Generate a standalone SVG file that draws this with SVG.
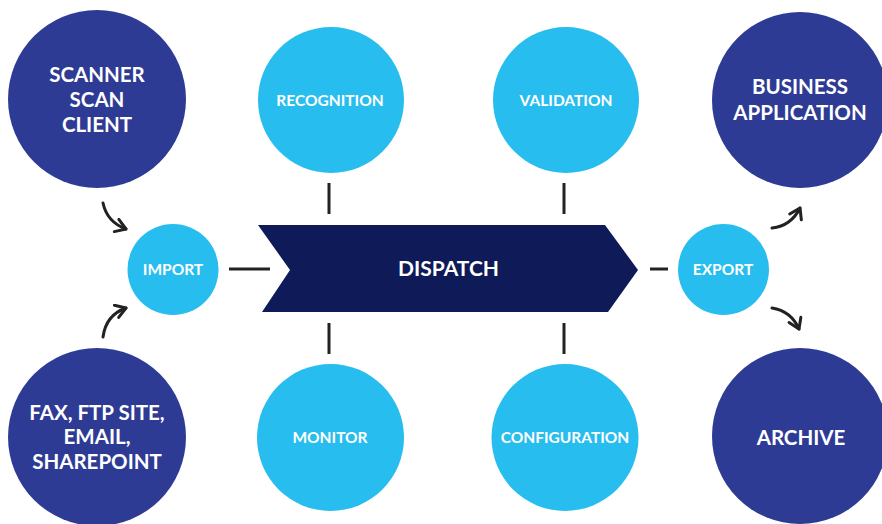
<svg xmlns="http://www.w3.org/2000/svg" width="882" height="524" viewBox="0 0 882 524">
<style>
.dark{fill:#2e3b95}
.light{fill:#28bdef}
.t{font-family:Lato,"Open Sans","Liberation Sans",sans-serif;font-weight:bold;fill:#ffffff;text-anchor:middle}
.big{font-size:20.5px}
.sm{font-size:15.5px}
.ln{stroke:#222;stroke-width:3;fill:none}
.ar{stroke:#222;stroke-width:3;fill:none;stroke-linecap:round;stroke-linejoin:round}
</style>
<defs>
<marker id="head" viewBox="0 0 16 16" refX="13" refY="8" markerWidth="16" markerHeight="16" markerUnits="userSpaceOnUse" orient="auto">
<path d="M3,1.5 L13,8 L3,14.5" fill="none" stroke="#222" stroke-width="3" stroke-linecap="round" stroke-linejoin="round"/>
</marker>
</defs>
<rect width="882" height="524" fill="#ffffff"/>
<g id="connectors">
<line class="ln" x1="229" y1="269" x2="270" y2="269"/>
<line class="ln" x1="650" y1="269" x2="668" y2="269"/>
<line class="ln" x1="329" y1="183" x2="329" y2="214"/>
<line class="ln" x1="564" y1="183" x2="564" y2="214"/>
<line class="ln" x1="329" y1="323" x2="329" y2="354"/>
<line class="ln" x1="564" y1="323" x2="564" y2="354"/>
<path class="ar" d="M103,203 Q107,222 126,229" marker-end="url(#head)"/>
<path class="ar" d="M103,337 Q106,315 126,308" marker-end="url(#head)"/>
<path class="ar" d="M772,228 Q791,226 800,208" marker-end="url(#head)"/>
<path class="ar" d="M772,308 Q791,311 799,329" marker-end="url(#head)"/>
</g>
<g id="scanner">
<circle class="dark" cx="97" cy="99" r="89"/>
<text class="t big" x="97" y="82">SCANNER</text>
<text class="t big" x="97" y="107">SCAN</text>
<text class="t big" x="97" y="132">CLIENT</text>
</g>
<g id="fax">
<circle class="dark" cx="97" cy="437" r="89"/>
<text class="t big" x="97" y="420">FAX, FTP SITE,</text>
<text class="t big" x="97" y="444">EMAIL,</text>
<text class="t big" x="97" y="469">SHAREPOINT</text>
</g>
<g id="import">
<circle class="light" cx="173" cy="269.5" r="45.5"/>
<text class="t sm" x="173" y="275">IMPORT</text>
</g>
<g id="recognition">
<circle class="light" cx="331" cy="100" r="73"/>
<text class="t sm" x="330" y="106">RECOGNITION</text>
</g>
<g id="validation">
<circle class="light" cx="566" cy="100" r="73"/>
<text class="t sm" x="566" y="106">VALIDATION</text>
</g>
<g id="monitor">
<circle class="light" cx="330.5" cy="437.5" r="73.5"/>
<text class="t sm" x="330" y="443">MONITOR</text>
</g>
<g id="configuration">
<circle class="light" cx="565" cy="437.5" r="73.5"/>
<text class="t sm" x="565" y="443">CONFIGURATION</text>
</g>
<g id="dispatch">
<polygon points="258,225 605,225 638,270 608,312 262,312 290,270" fill="#0f1a58"/>
<text class="t" style="font-size:21px" x="448.5" y="276">DISPATCH</text>
</g>
<g id="export">
<circle class="light" cx="723.5" cy="269.5" r="45.5"/>
<text class="t sm" x="723" y="275">EXPORT</text>
</g>
<g id="business">
<circle class="dark" cx="800" cy="100" r="88"/>
<text class="t big" x="800" y="94">BUSINESS</text>
<text class="t big" x="800" y="120">APPLICATION</text>
</g>
<g id="archive">
<circle class="dark" cx="800" cy="436" r="88"/>
<text class="t big" x="801" y="445">ARCHIVE</text>
</g>
</svg>
